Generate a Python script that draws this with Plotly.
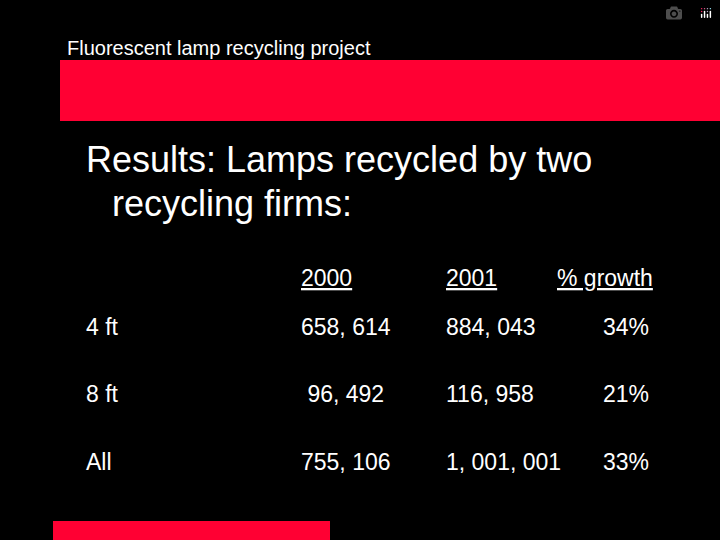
import plotly.graph_objects as go

title = "Fluorescent lamp recycling project"
headline = ["Results: Lamps recycled by two", "recycling firms:"]
headers = ["2000", "2001", "% growth"]
rows = ["4 ft", "8 ft", "All"]
v2000 = ["658, 614", " 96, 492", "755, 106"]
v2001 = ["884, 043", "116, 958", "1, 001, 001"]
growth = ["34%", "21%", "33%"]

RED = "#FF0033"
F = "Liberation Sans, Arial, sans-serif"
fig = go.Figure()
fig.update_layout(width=720, height=540, margin=dict(l=0, r=0, t=0, b=0),
                  paper_bgcolor="black", plot_bgcolor="black", showlegend=False,
                  xaxis=dict(range=[0, 720], visible=False, fixedrange=True),
                  yaxis=dict(range=[540, 0], visible=False, fixedrange=True))
fig.add_shape(type="rect", x0=60, x1=720, y0=60, y1=121, fillcolor=RED, line_width=0)
fig.add_shape(type="rect", x0=53, x1=330, y0=521, y1=540, fillcolor=RED, line_width=0)

def txt(x, y, s, size):
    fig.add_annotation(x=x, y=y, text=s, showarrow=False, xanchor="left", yanchor="middle",
                       font=dict(family=F, size=size, color="white"))

txt(65, 48, title, 20)
txt(84, 159, headline[0], 36)
txt(110, 203, headline[1], 36)
for x, h in zip([299, 444, 555], headers):
    txt(x, 278, "<u>" + h + "</u>", 23)
for i, y in enumerate([327, 394, 462]):
    txt(84, y, rows[i], 23)
    txt(299, y, v2000[i].replace(" ", "&nbsp;", 1) if v2000[i].startswith(" ") else v2000[i], 23)
    txt(444, y, v2001[i], 23)
    txt(601, y, growth[i], 23)

fig.write_html("out.html", post_script="document.body.style.margin='0';document.body.style.background='black';")
